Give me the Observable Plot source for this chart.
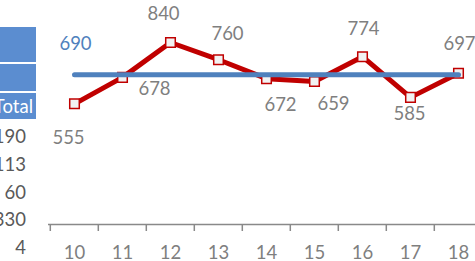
<!DOCTYPE html>
<html>
<head>
<meta charset="utf-8">
<script src="https://cdn.jsdelivr.net/npm/d3@7"></script>
<script src="https://cdn.jsdelivr.net/npm/@observablehq/plot@0.6"></script>
<style>
  html, body { margin: 0; padding: 0; background: #fff; overflow: hidden; }
  #wrap { position: relative; width: 475px; height: 261px; overflow: hidden; }
  #chart { position: absolute; left: 0; top: 0; }
  #tbl { position: absolute; left: -40px; top: 27px; width: 76px; font-family: Lato, sans-serif; font-size: 18.5px; }
  #tbl .h { background: #5b8dd0; color: #fff; text-align: right; box-sizing: border-box; padding-right: 3px; white-space: nowrap; }
  #tbl .n { height: 27.75px; line-height: 27.75px; text-align: right; padding-right: 10px; color: #595959; white-space: nowrap; }
</style>
</head>
<body>
<div id="wrap">
  <div id="chart"></div>
  <div id="tbl"></div>
</div>
<script>
// ---- data ----
const categories = [10, 11, 12, 13, 14, 15, 16, 17, 18];
const values = [555, 678, 840, 760, 672, 659, 774, 585, 697];
const averageValues = [690, 690, 690, 690, 690, 690, 690, 690, 690];
const averageLabel = "690";
const tableHeader = "Total";
const tableValues = [190, 113, 60, 330, 4];

// ---- table fragment on the left ----
const tbl = document.getElementById("tbl");
const headerRows = [
  {h: 35, text: ""},
  {h: 27, text: ""},
  {h: 26, text: tableHeader}
];
headerRows.forEach((r, i) => {
  const d = document.createElement("div");
  d.className = "h";
  d.style.height = r.h + "px";
  d.style.lineHeight = r.h + "px";
  d.style.marginBottom = i < 2 ? "2px" : "4px";
  d.textContent = r.text;
  tbl.appendChild(d);
});
tableValues.forEach(v => {
  const d = document.createElement("div");
  d.className = "n";
  d.textContent = v;
  tbl.appendChild(d);
});

// ---- chart ----
const pts = values.map((v, i) => ({cat: categories[i], value: v}));
const avg = averageValues.map((v, i) => ({cat: categories[i], value: v}));
// label placement offsets (px) for each data label
const labelShift = [[-6, 34], [32, 12], [-7, -28], [9, -26], [14, 26], [19, 23], [1, -28], [-1, 17], [1, -29]];

const labelColor = "#7f7f7f";
const chart = Plot.plot({
  width: 475,
  height: 261,
  marginLeft: 48,
  marginRight: -8.5,
  marginTop: 7.6,
  marginBottom: 38.3,
  style: {fontFamily: "Lato, sans-serif", fontSize: "18.5px", background: "transparent", overflow: "visible"},
  x: {type: "band", domain: categories, padding: 0, axis: null},
  y: {domain: [0, 1000], axis: null},
  marks: [
    Plot.ruleY([0], {stroke: "#898989", strokeWidth: 1.5, dy: 1.3}),
    Plot.axisX({ticks: categories, tickSize: 7, tickFormat: () => "", label: null, dx: -24.2, dy: 1.3, stroke: "#898989", strokeWidth: 1.5}),
    Plot.axisX({ticks: categories, tickSize: 0, tickPadding: 22.8, label: null, fill: labelColor, fontSize: 18.5}),
    Plot.line(pts, {x: "cat", y: "value", stroke: "#c00000", strokeWidth: 5, strokeLinejoin: "round"}),
    Plot.dot(pts, {x: "cat", y: "value", symbol: "square", r: 5.4, fill: "#f2f2f2", stroke: "#c00000", strokeWidth: 1.5}),
    Plot.line(avg, {x: "cat", y: "value", stroke: "#4f81bd", strokeWidth: 5, strokeLinecap: "round"}),
    ...pts.map((p, i) => Plot.text([p], {x: "cat", y: "value", text: d => String(d.value), fill: labelColor, fontSize: 18.5, dx: labelShift[i][0], dy: labelShift[i][1]})),
    Plot.text([avg[0]], {x: "cat", y: "value", text: () => averageLabel, fill: "#4f81bd", fontSize: 18.5, dx: 1, dy: -31})
  ]
});
document.getElementById("chart").appendChild(chart);
</script>
</body>
</html>
